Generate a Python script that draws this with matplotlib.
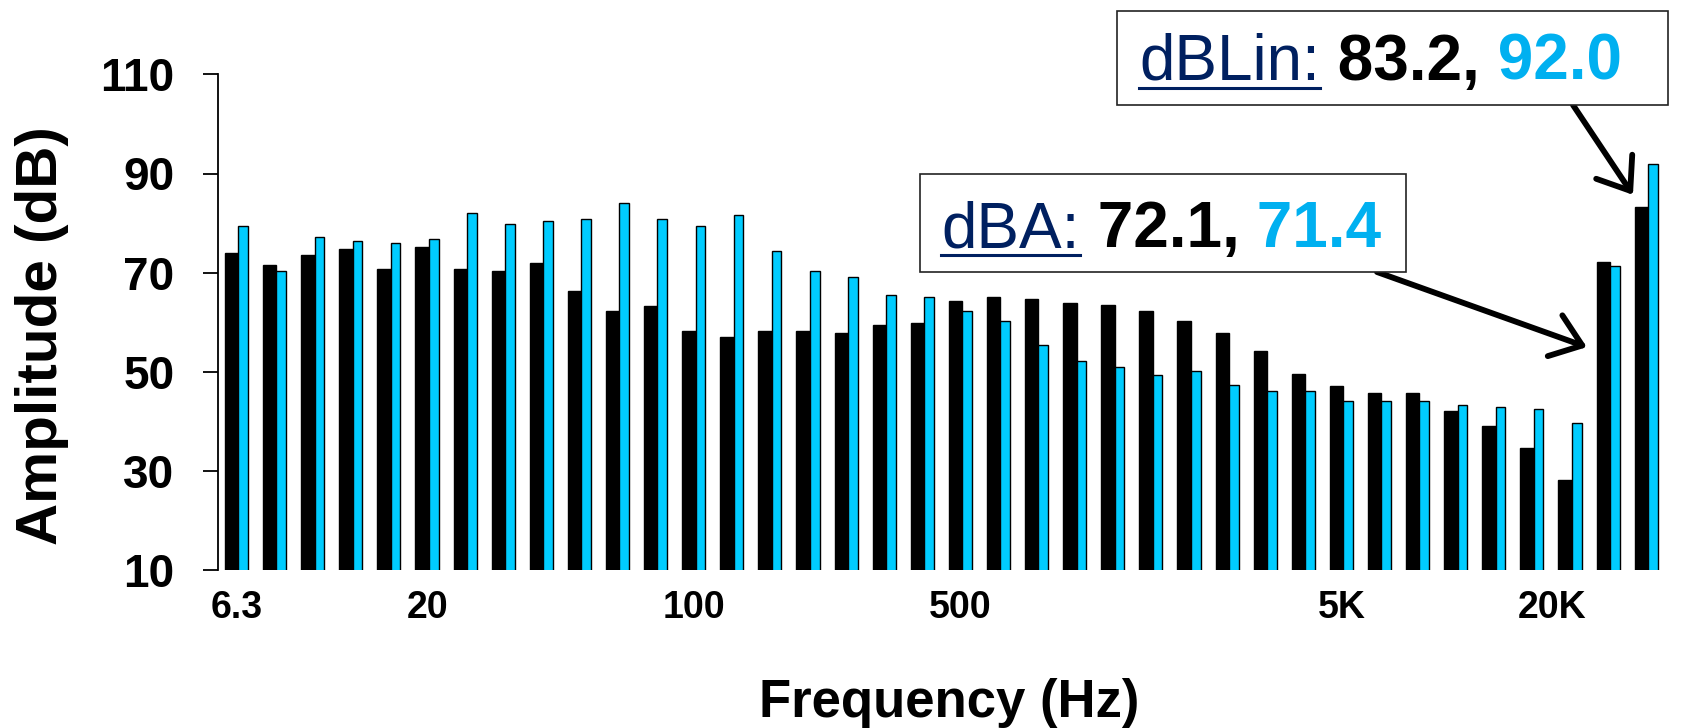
import matplotlib
matplotlib.use("Agg")
import matplotlib.pyplot as plt
import matplotlib.transforms as mtransforms
from matplotlib import font_manager
from matplotlib.patches import Rectangle
from matplotlib.lines import Line2D
import numpy as np

# 1/3 octave bands, then the two overall levels
bands = ["6.3", "8", "10", "12.5", "16", "20", "25", "31.5", "40", "50",
         "63", "80", "100", "125", "160", "200", "250", "315", "400", "500",
         "630", "800", "1K", "1.25K", "1.6K", "2K", "2.5K", "3.15K", "4K", "5K",
         "6.3K", "8K", "10K", "12.5K", "16K", "20K", "dBA", "dBLin"]
black_vals = [74.0, 71.6, 73.6, 74.8, 70.8, 75.2, 70.8, 70.4, 72.0, 66.3,
              62.3, 63.2, 58.3, 57.1, 58.3, 58.3, 57.9, 59.5, 59.9, 64.3,
              65.1, 64.7, 63.9, 63.5, 62.3, 60.3, 57.9, 54.3, 49.5, 47.1,
              45.8, 45.8, 42.2, 39.0, 34.6, 28.2, 72.1, 83.2]
cyan_vals = [79.5, 70.3, 77.1, 76.4, 75.9, 76.7, 82.0, 79.9, 80.4, 80.8,
             84.0, 80.8, 79.5, 81.6, 74.3, 70.3, 69.1, 65.5, 65.1, 62.3,
             60.3, 55.4, 52.2, 51.0, 49.4, 50.2, 47.4, 46.2, 46.2, 44.2,
             44.2, 44.2, 43.4, 43.0, 42.6, 39.7, 71.4, 92.0]
shown_labels = ["6.3", "20", "100", "500", "5K", "20K"]
y_ticks = [10, 30, 50, 70, 90, 110]

W, H = 1685, 728
CYAN_BAR = "#00CCFF"
CYAN_TXT = "#00B0F0"
NAVY = "#002060"

names = {f.name for f in font_manager.fontManager.ttflist}
if "Liberation Sans Narrow" in names:
    narrow_font, narrow_size = "Liberation Sans Narrow", 31
else:
    narrow_font, narrow_size = "Liberation Sans", 27

plt.rcParams["font.family"] = ["Liberation Sans", "DejaVu Sans"]

fig = plt.figure(figsize=(W / 100, H / 100), dpi=100)
ax = fig.add_axes([218.3 / W, 1 - 570.3 / H, (1668 - 218.3) / W, (570.3 - 74.3) / H])

x = np.arange(len(bands))
ax.bar(x - 0.305, black_vals, width=0.35, bottom=0, align="edge",
       color="black", edgecolor="black", linewidth=1.0, zorder=2)
ax.bar(x + 0.045, cyan_vals, width=0.255, bottom=0, align="edge",
       color=CYAN_BAR, edgecolor="black", linewidth=1.0, zorder=3)

ax.set_xlim(-0.481, 37.57)
ax.set_ylim(10, 110)
ax.set_yticks(y_ticks)
ax.set_yticklabels([str(v) for v in y_ticks], fontsize=33, fontweight="bold")
ax.tick_params(axis="y", direction="out", length=10.5, width=1.3, pad=21)

ax.set_xticks([bands.index(l) for l in shown_labels])
ax.set_xticklabels(shown_labels, fontsize=narrow_size, fontweight="bold",
                   family=[narrow_font, "Liberation Sans"])
ax.tick_params(axis="x", length=0, pad=14)
# the 20K label sits a bit left of its band in the original
lbl = ax.get_xticklabels()[-1]
lbl.set_transform(lbl.get_transform() + mtransforms.ScaledTranslation(-18 / 100, 0, fig.dpi_scale_trans))

for s in ["top", "right", "bottom"]:
    ax.spines[s].set_visible(False)
ax.spines["left"].set_linewidth(1.3)

fig.text(42 / W, 1 - 336 / H, "Amplitude (dB)", rotation=90, ha="center", va="center",
         fontsize=42, fontweight="bold")
fig.text(949 / W, 1 - 717 / H, "Frequency (Hz)", ha="center", va="baseline",
         fontsize=38, fontweight="bold")

fig.canvas.draw()
r = fig.canvas.get_renderer()


def box_label(parts, x0, y0, box):
    bx0, by0, bx1, by1 = box
    fig.patches.append(Rectangle((bx0 / W, 1 - by1 / H), (bx1 - bx0) / W, (by1 - by0) / H,
                                 transform=fig.transFigure, facecolor="white",
                                 edgecolor="#222222", linewidth=1.2, zorder=5))
    xc = x0
    for s, color, weight, under in parts:
        t = fig.text(xc / W, 1 - y0 / H, s, color=color, fontweight=weight, fontsize=46,
                     ha="left", va="baseline", zorder=6)
        bb = t.get_window_extent(r)
        if under:
            fig.lines.append(Line2D([bb.x0 / W, bb.x1 / W], [1 - (y0 + 8) / H] * 2,
                                    transform=fig.transFigure, color=color, lw=2.2, zorder=6))
        xc = bb.x1


box_label([("dBA:", NAVY, "normal", True),
           (" 72.1,", "black", "bold", False),
           (" 71.4", CYAN_TXT, "bold", False)],
          941, 247, (920, 174, 1406, 272))
box_label([("dBLin:", NAVY, "normal", True),
           (" 83.2,", "black", "bold", False),
           (" 92.0", CYAN_TXT, "bold", False)],
          1139, 80, (1117, 11, 1668, 105))

arrow = dict(arrowstyle="->, head_length=0.4, head_width=0.3", lw=4.2, color="black",
             mutation_scale=52, shrinkA=0, shrinkB=0)
ax.annotate("", xy=(bands.index("dBA") - 0.56, 55.0), xycoords="data",
            xytext=(1377 / W, 1 - 272 / H), textcoords="figure fraction",
            arrowprops=arrow, zorder=7, annotation_clip=False)
ax.annotate("", xy=(bands.index("dBLin") - 0.35, 85.7), xycoords="data",
            xytext=(1573 / W, 1 - 105 / H), textcoords="figure fraction",
            arrowprops=arrow, zorder=7, annotation_clip=False)

fig.savefig("out.png", dpi=100)
